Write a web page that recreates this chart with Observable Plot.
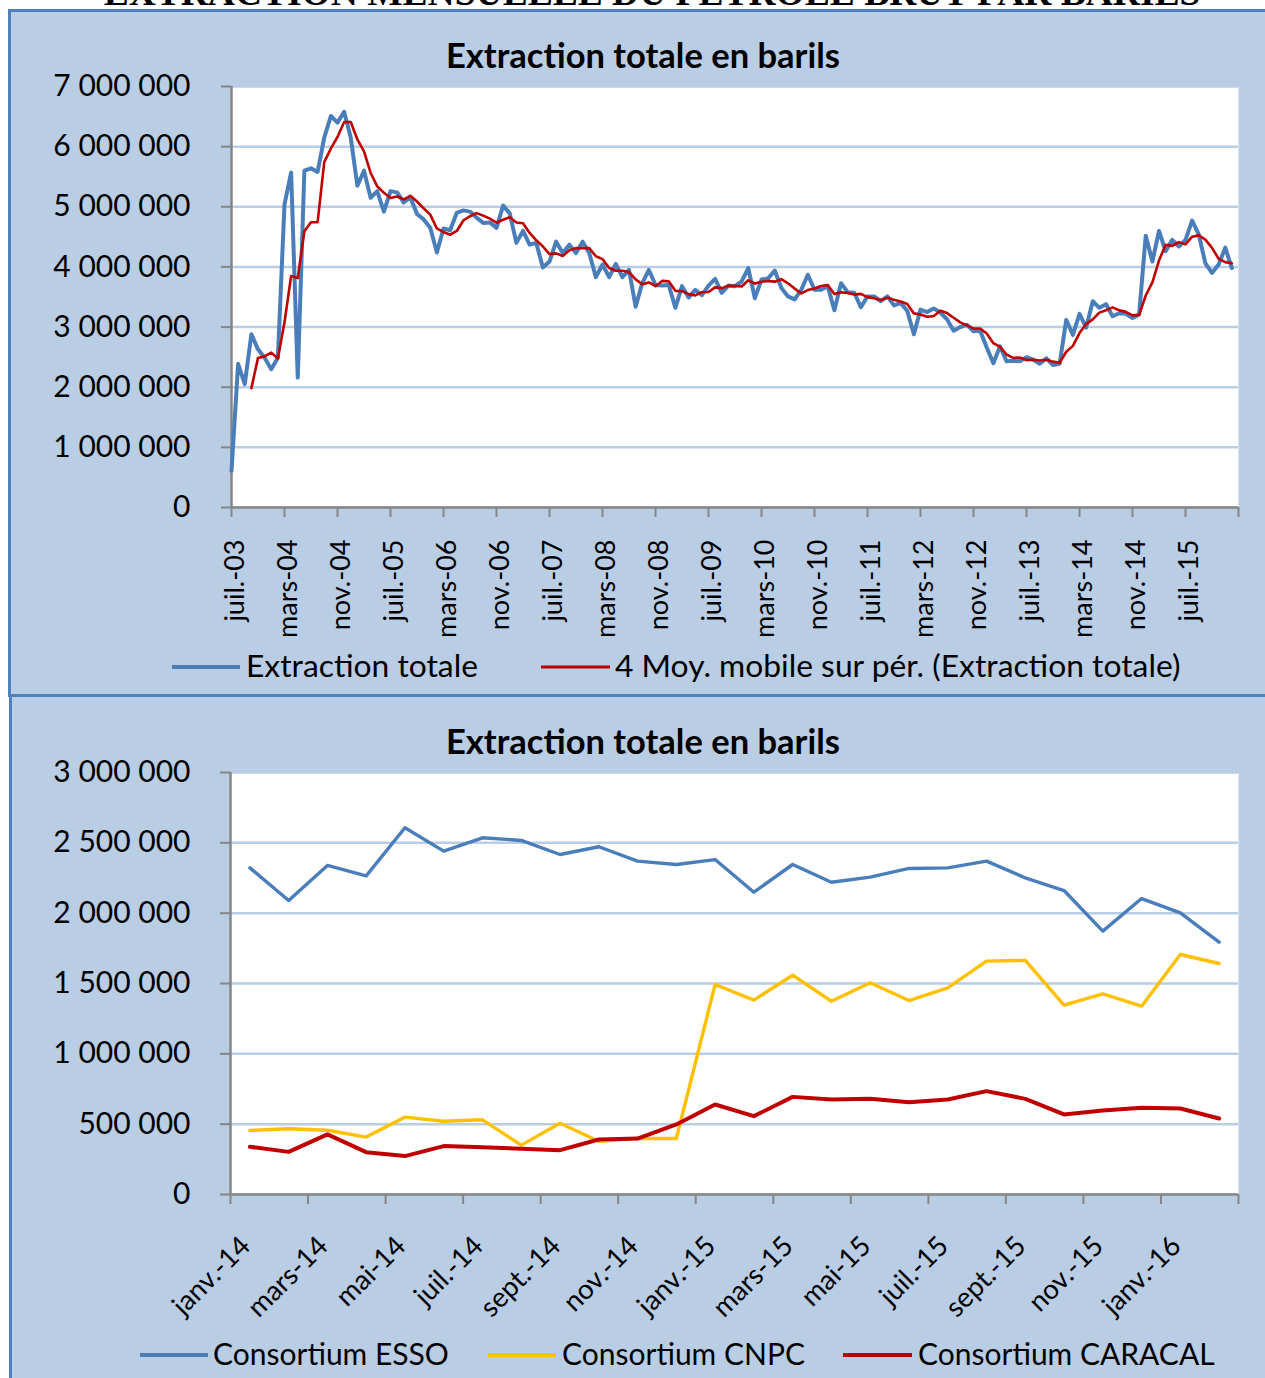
<!DOCTYPE html>
<html><head><meta charset="utf-8">
<script src="https://cdn.jsdelivr.net/npm/d3@7"></script>
<script src="https://cdn.jsdelivr.net/npm/@observablehq/plot@0.6"></script>
<style>
body{margin:0;background:#fff;}
#page{position:relative;width:1265px;height:1378px;overflow:hidden;font-family:Lato,"Open Sans",sans-serif;}
.panel{position:absolute;background:#B9CDE5;border:3px solid #4F81BD;box-sizing:border-box;}
.chart{position:absolute;left:0;}
#overlay{position:absolute;left:0;top:0;}
</style>
</head><body>
<div id="page">
  <div class="panel" style="left:8px;top:9px;width:1275px;height:688px;"></div>
  <div class="panel" style="left:9px;top:694px;width:1275px;height:700px;"></div>
  <div class="chart" id="top" style="top:70px;"></div>
  <div class="chart" id="bottom" style="top:756px;"></div>
  <svg id="overlay" width="1265" height="1378"></svg>
</div>
<script>
// ---------- DATA ----------
const MOIS = ["janv.","févr.","mars","avr.","mai","juin","juil.","août","sept.","oct.","nov.","déc."];

// Top chart: monthly total extraction, from July 2003 to February 2016 (barrels)
const topStartYear = 2003, topStartMonth = 6; // juillet
const totalExtraction = [
  610000, 2390000, 2050000, 2880000, 2630000, 2490000, 2300000, 2490000, 5040000, 5570000,
  2160000, 5600000, 5640000, 5580000, 6150000, 6510000, 6400000, 6580000, 6150000, 5350000,
  5600000, 5150000, 5260000, 4920000, 5260000, 5240000, 5070000, 5160000, 4880000, 4790000,
  4650000, 4240000, 4640000, 4610000, 4900000, 4940000, 4920000, 4820000, 4730000, 4740000,
  4650000, 5020000, 4890000, 4400000, 4600000, 4370000, 4400000, 3990000, 4090000, 4420000,
  4230000, 4370000, 4230000, 4420000, 4230000, 3830000, 4040000, 3830000, 4050000, 3830000,
  3950000, 3340000, 3730000, 3950000, 3700000, 3690000, 3700000, 3320000, 3680000, 3490000,
  3620000, 3530000, 3690000, 3800000, 3570000, 3690000, 3680000, 3760000, 3980000, 3480000,
  3790000, 3810000, 3940000, 3650000, 3510000, 3460000, 3620000, 3870000, 3620000, 3620000,
  3680000, 3280000, 3730000, 3580000, 3570000, 3330000, 3510000, 3510000, 3430000, 3510000,
  3360000, 3400000, 3270000, 2880000, 3290000, 3250000, 3310000, 3240000, 3130000, 2940000,
  3000000, 3040000, 2930000, 2940000, 2660000, 2400000, 2680000, 2430000, 2440000, 2430000,
  2500000, 2460000, 2390000, 2480000, 2370000, 2390000, 3120000, 2870000, 3220000, 2990000,
  3430000, 3320000, 3380000, 3180000, 3230000, 3220000, 3150000, 3210000, 4520000, 4090000,
  4600000, 4260000, 4450000, 4340000, 4450000, 4770000, 4540000, 4060000, 3900000, 4040000,
  4320000, 3980000
];
const topMonthSpan = 152;     // axis length in months
const topTickStep = 8;        // one tick every 8 months
const topYTicks = [0, 1000000, 2000000, 3000000, 4000000, 5000000, 6000000, 7000000];
const movingAveragePeriod = 4;

// Bottom chart: January 2014 to February 2016 (barrels)
const bottomStartYear = 2014, bottomStartMonth = 0; // janvier
const esso = [2322000, 2090000, 2339000, 2265000, 2607000, 2441000, 2536000, 2517000, 2417000, 2472000,
  2370000, 2346000, 2381000, 2149000, 2346000, 2220000, 2256000, 2318000, 2322000, 2370000,
  2251000, 2161000, 1872000, 2104000, 2002000, 1794000];
const cnpc = [455000, 467000, 457000, 408000, 550000, 521000, 531000, 351000, 507000, 379000,
  398000, 398000, 1493000, 1382000, 1559000, 1374000, 1505000, 1379000, 1469000, 1659000,
  1664000, 1346000, 1427000, 1339000, 1706000, 1642000];
const caracal = [339000, 303000, 427000, 301000, 273000, 344000, 336000, 325000, 315000, 391000,
  398000, 498000, 640000, 557000, 694000, 675000, 680000, 656000, 675000, 735000,
  680000, 569000, 597000, 616000, 611000, 540000];
const bottomYTicks = [0, 500000, 1000000, 1500000, 2000000, 2500000, 3000000];
const seriesNames = ["Consortium ESSO", "Consortium CNPC", "Consortium CARACAL"];

// ---------- STYLE ----------
const BLUE = "#4A7EBB", RED = "#C00000", YELLOW = "#FFC000";
const GRID = "#B9CDE5", AXIS = "#868686";
const FONT = "Lato";

const fmt = d => d3.format(",")(d).replace(/,/g, " ");
const monthLabel = (y0, m0, i) => {
  const m = m0 + i;
  return MOIS[m % 12] + "-" + String((y0 + Math.floor(m / 12)) % 100).padStart(2, "0");
};

// ---------- TOP CHART ----------
const topData = totalExtraction.map((v, i) => ({i, v}));
const topTicks = d3.range(0, topMonthSpan + 1, topTickStep);
const topLabels = topTicks.filter(t => t < topMonthSpan);

const topPlot = Plot.plot({
  width: 1265, height: 580,
  marginLeft: 231, marginRight: 27, marginTop: 16, marginBottom: 143,
  style: {background: "transparent", overflow: "visible", fontFamily: FONT},
  x: {domain: [0, topMonthSpan], axis: null},
  y: {domain: [0, 7000000], axis: null},
  marks: [
    Plot.frame({fill: "white", stroke: "none"}),
    Plot.ruleY(topYTicks, {stroke: GRID, strokeWidth: 2.5}),
    Plot.ruleX([0], {stroke: AXIS, strokeWidth: 2.5}),
    Plot.ruleY([0], {stroke: AXIS, strokeWidth: 2.5}),
    Plot.ruleY(topYTicks, {x1: 0, x2: 0, insetLeft: -10, stroke: AXIS, strokeWidth: 2}),
    Plot.ruleX(topTicks, {y1: 0, y2: 0, insetBottom: -10, stroke: AXIS, strokeWidth: 2}),
    Plot.line(topData, {x: "i", y: "v", stroke: BLUE, strokeWidth: 4, strokeLinejoin: "round"}),
    Plot.line(topData, Plot.windowY({k: movingAveragePeriod, anchor: "end", strict: true},
      {x: "i", y: "v", stroke: RED, strokeWidth: 2.6, strokeLinejoin: "round"})),
    Plot.text(topYTicks, {y: d => d, text: fmt, frameAnchor: "left", textAnchor: "end", dx: -41, fontSize: 30, fill: "black"}),
    Plot.text(topLabels, {x: d => d, text: d => monthLabel(topStartYear, topStartMonth, d),
      frameAnchor: "bottom", rotate: -90, textAnchor: "end", lineAnchor: "middle", dy: 32, dx: 4, fontSize: 27, fill: "black"})
  ]
});
document.getElementById("top").appendChild(topPlot);

// ---------- BOTTOM CHART ----------
const n = esso.length;
const bottomData = [];
[esso, cnpc, caracal].forEach((arr, s) => arr.forEach((v, i) => bottomData.push({i, v, s: seriesNames[s]})));
const bottomTicks = d3.range(-0.5, n, 2);
const bottomLabels = d3.range(0, n - 1, 2);

const bottomPlot = Plot.plot({
  width: 1265, height: 580,
  marginLeft: 230, marginRight: 27, marginTop: 16, marginBottom: 142,
  style: {background: "transparent", overflow: "visible", fontFamily: FONT},
  x: {domain: [-0.5, n - 0.5], axis: null},
  y: {domain: [0, 3000000], axis: null},
  color: {domain: seriesNames, range: [BLUE, YELLOW, RED]},
  marks: [
    Plot.frame({fill: "white", stroke: "none"}),
    Plot.ruleY(bottomYTicks, {stroke: GRID, strokeWidth: 2.5}),
    Plot.ruleX([-0.5], {stroke: AXIS, strokeWidth: 2.5}),
    Plot.ruleY([0], {stroke: AXIS, strokeWidth: 2.5}),
    Plot.ruleY(bottomYTicks, {x1: -0.5, x2: -0.5, insetLeft: -10, stroke: AXIS, strokeWidth: 2}),
    Plot.ruleX(bottomTicks, {y1: 0, y2: 0, insetBottom: -10, stroke: AXIS, strokeWidth: 2}),
    Plot.line(bottomData.filter(d => d.s === seriesNames[0]), {x: "i", y: "v", stroke: "s", strokeWidth: 3.4, strokeLinejoin: "round"}),
    Plot.line(bottomData.filter(d => d.s === seriesNames[1]), {x: "i", y: "v", stroke: "s", strokeWidth: 3.4, strokeLinejoin: "round"}),
    Plot.line(bottomData.filter(d => d.s === seriesNames[2]), {x: "i", y: "v", stroke: "s", strokeWidth: 4, strokeLinejoin: "round"}),
    Plot.text(bottomYTicks, {y: d => d, text: fmt, frameAnchor: "left", textAnchor: "end", dx: -40, fontSize: 30, fill: "black"}),
    Plot.text(bottomLabels, {x: d => d, text: d => monthLabel(bottomStartYear, bottomStartMonth, d),
      frameAnchor: "bottom", rotate: -45, textAnchor: "end", lineAnchor: "middle", dy: 47, dx: -4, fontSize: 27.5, fill: "black"})
  ]
});
document.getElementById("bottom").appendChild(bottomPlot);

// ---------- TITLES & LEGENDS ----------
const ov = d3.select("#overlay");
ov.append("text").attr("x", 652).attr("y", 5).attr("text-anchor", "middle")
  .attr("font-family", "Liberation Serif, serif").attr("font-weight", "bold").attr("font-size", 37.5)
  .text("EXTRACTION MENSUELLE DU PETROLE BRUT PAR BARILS");
[[57], [743]].forEach(([yc]) => {
  ov.append("text").attr("x", 643).attr("y", yc + 11).attr("text-anchor", "middle")
    .attr("font-family", FONT).attr("font-weight", "bold").attr("font-size", 34.5)
    .text("Extraction totale en barils");
});
const legend = (items, yc, size) => {
  items.forEach(([x1, x2, tx, color, w, label]) => {
    ov.append("line").attr("x1", x1).attr("x2", x2).attr("y1", yc).attr("y2", yc)
      .attr("stroke", color).attr("stroke-width", w);
    ov.append("text").attr("x", tx).attr("y", yc + 10).attr("font-family", FONT).attr("font-size", size).text(label);
  });
};
legend([[172, 240, 246, BLUE, 4, "Extraction totale"],
        [541, 610, 615, RED, 3, "4 Moy. mobile sur pér. (Extraction totale)"]], 667, 31.8);
legend([[140, 208, 213, BLUE, 4, seriesNames[0]],
        [488, 556, 562, YELLOW, 4, seriesNames[1]],
        [843, 912, 918, RED, 4, seriesNames[2]]], 1355, 30);
</script>
</body></html>
